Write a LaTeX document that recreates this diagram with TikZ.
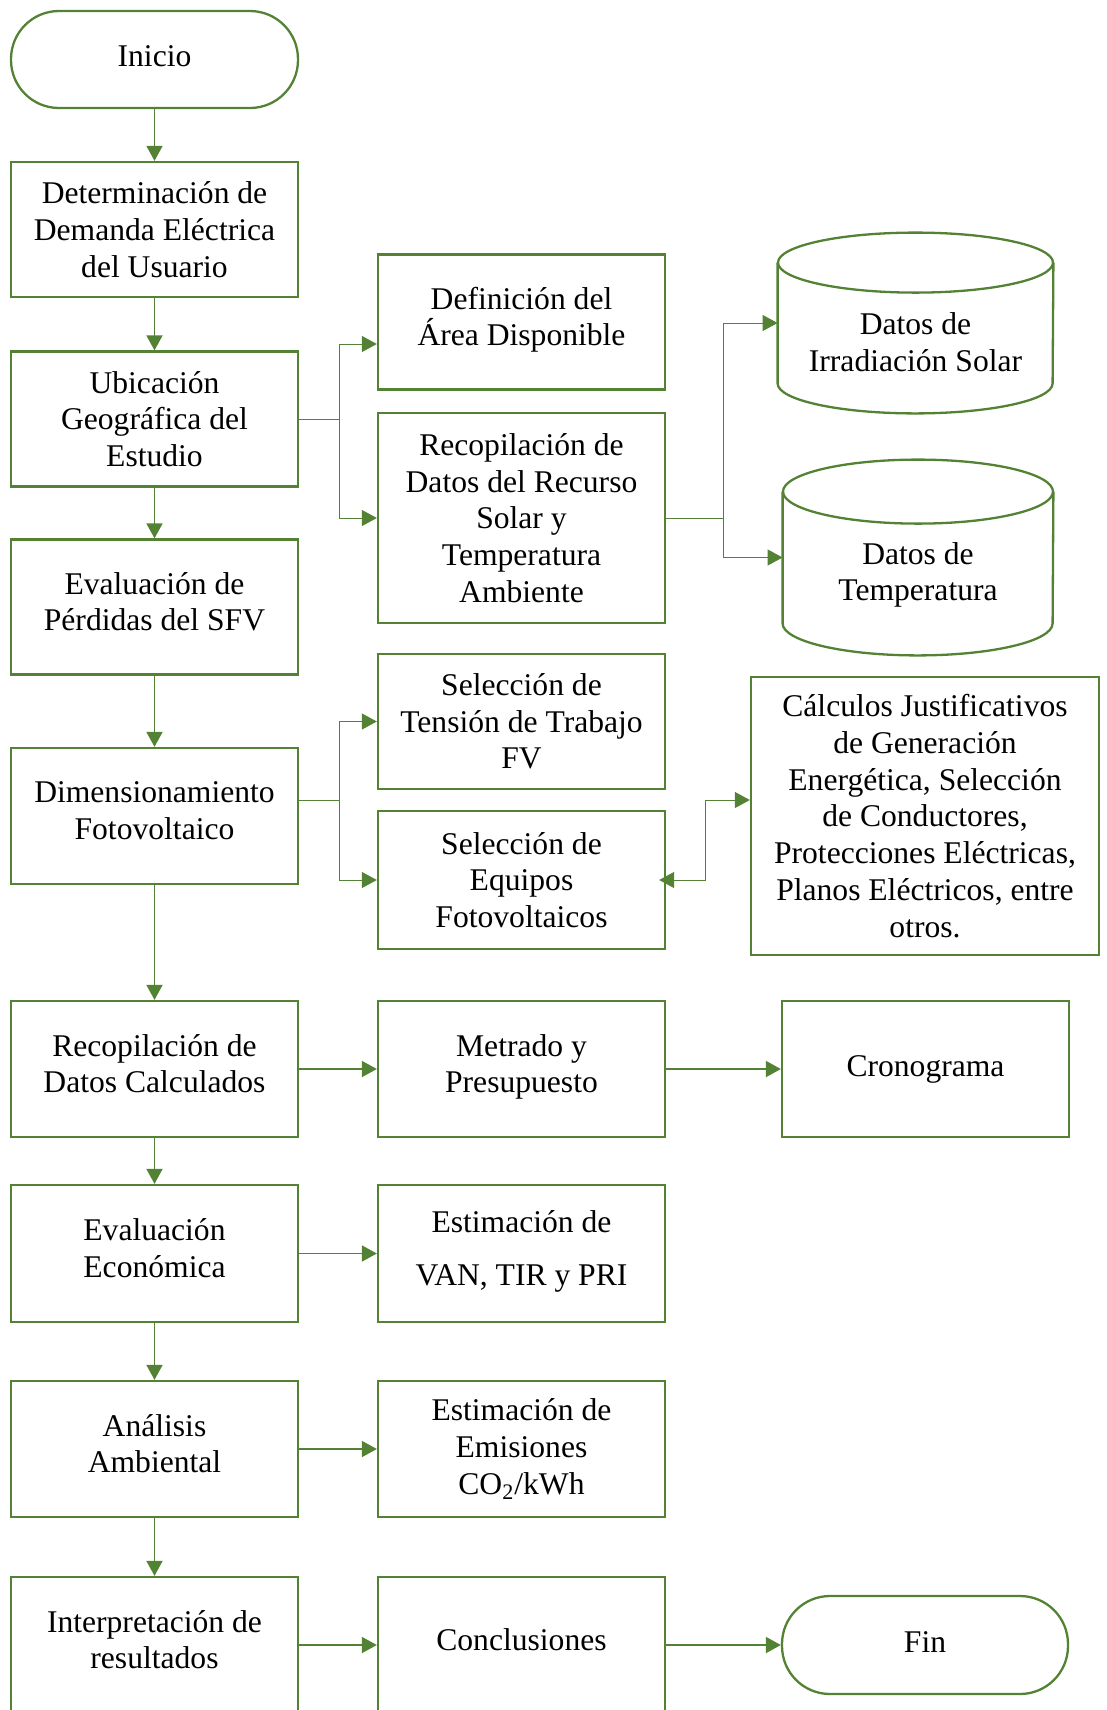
\documentclass[tikz,border=0pt]{standalone}
\usepackage{fontspec}
\setmainfont{Liberation Serif}
\usetikzlibrary{shapes.geometric, arrows.meta, positioning, calc}
\definecolor{cLeaf}{RGB}{84,130,53}
\tikzset{
    box/.style        ={rectangle, draw=cLeaf, line width=1.15pt, minimum width=143.5pt, minimum height=67.5pt, align=center, inner sep=2pt},
    lift/.style       ={text depth=5.5pt},
    terminal/.style   ={box, rounded corners=24pt, minimum height=48.5pt, text depth=3pt},
    store/.style      ={rectangle, inner sep=0pt},
    storeline/.style  ={draw=cLeaf, line width=1.15pt},
    flowarrow/.style  ={-{Triangle[length=7.5pt,width=8pt]}, color=cLeaf, line width=0.9pt},
    branch/.style     ={color=cLeaf, line width=0.5pt},
    brancharrow/.style={branch, -{Triangle[length=7.5pt,width=8pt]}},
    dblarrow/.style   ={branch, {Triangle[length=7.5pt,width=8pt]}-{Triangle[length=7.5pt,width=8pt]}},
}
\begin{document}
\begin{tikzpicture}[x=0.5pt, y=-0.5pt, font=\fontsize{15.8}{18.35}\selectfont]
                \useasboundingbox (0,0) rectangle (1107,1710);
                \node[terminal] (ini) at (154.5,59.5) {Inicio};
                \node[box] (det) at (154.5,229.5) {Determinación de\\Demanda Eléctrica\\del Usuario};
                \node[box] (ubi) at (154.5,419) {Ubicación\\Geográfica del\\Estudio};
                \node[box, lift] (eva) at (154.5,607) {Evaluación de\\Pérdidas del SFV};
                \node[box, lift, minimum height=68pt] (dim) at (154.5,816) {Dimensionamiento\\Fotovoltaico};
                \node[box, lift, minimum height=68pt] (rdc) at (154.5,1069) {Recopilación de\\Datos Calculados};
                \node[box, lift, minimum height=68.5pt] (eve) at (154.5,1253.5) {Evaluación\\Económica};
                \node[box, lift, minimum height=68pt] (amb) at (154.5,1449) {Análisis\\Ambiental};
                \node[box, lift, minimum height=68pt] (int) at (154.5,1645) {Interpretación de\\resultados};
                \node[box, lift] (def) at (521.5,322) {Definición del\\Área Disponible};
                \node[box, minimum height=105pt] (rec) at (521.5,518) {Recopilación de\\Datos del Recurso\\Solar y\\Temperatura\\Ambiente};
                \node[box] (ten) at (521.5,721.5) {Selección de\\Tensión de Trabajo\\FV};
                \node[box, minimum height=69pt] (equ) at (521.5,880) {Selección de\\Equipos\\Fotovoltaicos};
                \node[box, lift, minimum height=68pt] (met) at (521.5,1069) {Metrado y\\Presupuesto};
                \node[box, lift, minimum height=68.5pt] (van) at (521.5,1253.5) {Estimación de\\[8pt]VAN, TIR y PRI};
                \node[box, minimum height=68pt] (emi) at (521.5,1449) {Estimación de\\Emisiones\\CO\textsubscript{2}/kWh};
                \node[box, lift, minimum height=68pt] (con) at (521.5,1645) {Conclusiones};
                \node[store, minimum width=137.5pt, minimum height=90pt] (irr) at (915.5,323) {};
                \draw[storeline] ([yshift=-15pt]irr.north) ellipse [x radius=68.75pt, y radius=15pt];
                \draw[storeline] ([yshift=-15pt]irr.north west) -- ([yshift=15pt]irr.south west) arc[start angle=180, end angle=360, x radius=68.75pt, y radius=15pt] -- ([yshift=-15pt]irr.north east);
                \node[align=center] (irrtxt) at ($(irr.center)+(0,19)$) {Datos de\\Irradiación Solar};
                \node[store, minimum width=135pt, minimum height=97.5pt] (tem) at (918,557.5) {};
                \draw[storeline] ([yshift=-16pt]tem.north) ellipse [x radius=67.5pt, y radius=16pt];
                \draw[storeline] ([yshift=-16pt]tem.north west) -- ([yshift=16pt]tem.south west) arc[start angle=180, end angle=360, x radius=67.5pt, y radius=16pt] -- ([yshift=-16pt]tem.north east);
                \node[align=center] (temtxt) at ($(tem.center)+(0,17.5)$) {Datos de\\Temperatura};
                \node[box, minimum width=174pt, minimum height=139pt] (cal) at (925,816) {Cálculos Justificativos\\de Generación\\Energética, Selección\\de Conductores,\\Protecciones Eléctricas,\\Planos Eléctricos, entre\\otros.};
                \node[box, minimum height=68pt] (cro) at (925.5,1069) {Cronograma};
                \node[terminal, minimum width=143pt, minimum height=49pt] (fin) at (925,1645) {Fin};
                \draw[flowarrow] (ini) -- (det);
                \draw[flowarrow] (det) -- (ubi);
                \draw[flowarrow] (ubi) -- (eva);
                \draw[flowarrow] (eva) -- (dim);
                \draw[flowarrow] (dim) -- (rdc);
                \draw[flowarrow] (rdc) -- (eve);
                \draw[flowarrow] (eve) -- (amb);
                \draw[flowarrow] (amb) -- (int);
                \draw[flowarrow] (rdc) -- (met);
                \draw[flowarrow] (met) -- (cro);
                \draw[flowarrow] (eve) -- (van);
                \draw[flowarrow] (amb) -- (emi);
                \draw[flowarrow] (int) -- (con);
                \draw[flowarrow] (con) -- (fin);
                \draw[branch] (ubi.east) -- ++(40,0) coordinate (fk1);
                \draw[brancharrow] (fk1) |- ([yshift=-11pt]def.west);
                \draw[brancharrow] (fk1) |- (rec.west);
                \draw[branch] (rec.east) -- ++(57,0) coordinate (fk2);
                \draw[brancharrow] (fk2) |- (irr.west);
                \draw[brancharrow] (fk2) |- (tem.west);
                \draw[branch] ([yshift=8pt]dim.east) -- ++(40,0) coordinate (fk3);
                \draw[brancharrow] (fk3) |- (ten.west);
                \draw[brancharrow] (fk3) |- (equ.west);
                \draw[dblarrow] ([xshift=-3.5pt]equ.east) -- ++(46,0) |- ([yshift=8pt]cal.west);
            \end{tikzpicture}
\end{document}
